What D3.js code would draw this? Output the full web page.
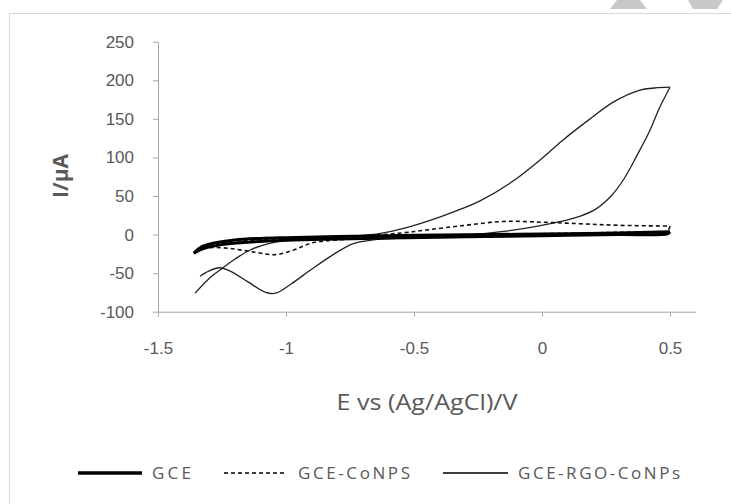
<!DOCTYPE html>
<html>
<head>
<meta charset="utf-8">
<script src="https://cdn.jsdelivr.net/npm/d3@7"></script>
<style>
  body { margin: 0; background: #fff; }
  svg { display: block; font-family: "Open Sans", "Liberation Sans", sans-serif; }
</style>
</head>
<body>
<svg id="chart" width="731" height="504"></svg>
<script>
// data: [E (V), I (uA)], split at the 0.5 V turning point
var gceForward = [
  [-1.36, -24], [-1.33, -16], [-1.28, -11], [-1.2, -7], [-1.1, -5], [-1.0, -4],
  [-0.8, -2.5], [-0.5, -1], [-0.2, 0], [0.1, 1], [0.3, 2], [0.5, 3.5]
];
var gceReverse = [
  [0.5, 3.5], [0.49, 1], [0.3, 0], [0.0, -1.5], [-0.3, -3], [-0.6, -4.5], [-0.85, -6],
  [-1.0, -7.5], [-1.15, -10], [-1.25, -13], [-1.32, -18], [-1.36, -24]
];
var conpsForward = [
  [-1.35, -21], [-1.3, -13], [-1.22, -9], [-1.1, -7], [-0.9, -5], [-0.7, -2],
  [-0.55, 2], [-0.45, 6], [-0.3, 12], [-0.15, 17], [0.0, 16], [0.15, 14],
  [0.3, 12], [0.5, 11]
];
var conpsReverse = [
  [0.5, 11], [0.49, 5], [0.3, 3], [0.0, 1], [-0.3, -2], [-0.6, -4], [-0.8, -7],
  [-0.9, -11], [-0.97, -20], [-1.04, -26], [-1.12, -23], [-1.22, -18],
  [-1.3, -17], [-1.35, -21]
];
var rgoForward = [
  [-1.355, -76], [-1.3, -57], [-1.25, -44], [-1.2, -32], [-1.14, -20],
  [-1.06, -11], [-0.95, -6], [-0.8, -3], [-0.7, -1], [-0.63, 1.5],
  [-0.54, 8], [-0.44, 18], [-0.34, 30], [-0.24, 44], [-0.11, 70],
  [-0.01, 96], [0.08, 122], [0.18, 148], [0.28, 172], [0.38, 187],
  [0.44, 190], [0.5, 191]
];
var rgoReverse = [
  [0.5, 191], [0.46, 165], [0.42, 134], [0.37, 102], [0.32, 72], [0.27, 50],
  [0.21, 33], [0.15, 24], [0.06, 16], [-0.05, 9], [-0.15, 4], [-0.3, -1],
  [-0.5, -4], [-0.66, -7], [-0.74, -12], [-0.82, -27], [-0.9, -45],
  [-0.98, -64], [-1.04, -76], [-1.08, -75], [-1.15, -61], [-1.22, -47],
  [-1.26, -43], [-1.3, -47], [-1.336, -54]
];
var xTicks = [-1.5, -1, -0.5, 0, 0.5];
var yTicks = [-100, -50, 0, 50, 100, 150, 200, 250];
var seriesNames = ["GCE", "GCE-CoNPS", "GCE-RGO-CoNPs"];

var svg = d3.select("#chart");

// watermark bits top right
svg.append("polygon").attr("points", "617,0 640,0 647,9 610,9").attr("fill", "#c8c8c8");
svg.append("polygon").attr("points", "688,0 723,0 717,9 693,9").attr("fill", "#c8c8c8");

// chart area border
svg.append("rect")
  .attr("x", 9.5).attr("y", 13.5)
  .attr("width", 740).attr("height", 500)
  .attr("fill", "none").attr("stroke", "#d9d9d9");

var x = d3.scaleLinear().domain([-1.5, 0.6]).range([158, 695.6]);
var y = d3.scaleLinear().domain([-100, 250]).range([311.7, 41.7]);

var yAxis = svg.append("g")
  .attr("transform", "translate(158,0)")
  .call(d3.axisLeft(y).tickValues(yTicks).tickSize(5).tickSizeOuter(0).tickPadding(19)
    .tickFormat(function(d) { return String(d); }));

var xAxis = svg.append("g")
  .attr("transform", "translate(0,311.7)")
  .call(d3.axisBottom(x).tickValues(xTicks).tickSize(5).tickSizeOuter(0).tickPadding(25)
    .tickFormat(function(d) { return String(d); }));

[xAxis, yAxis].forEach(function(a) {
  a.select(".domain").attr("stroke", "#a6a6a6");
  a.selectAll(".tick line").attr("stroke", "#a6a6a6");
  a.selectAll(".tick text").attr("fill", "#595959").style("font-size", "17px");
});

// axis titles
svg.append("text")
  .attr("transform", "translate(68,176) rotate(-90)")
  .attr("text-anchor", "middle")
  .attr("fill", "#595959")
  .style("font-size", "21px").style("font-weight", "bold")
  .text("I/μA");

svg.append("text")
  .attr("x", 427).attr("y", 410)
  .attr("text-anchor", "middle")
  .attr("fill", "#595959")
  .style("font-size", "21px")
  .attr("textLength", 181).attr("lengthAdjust", "spacingAndGlyphs")
  .text("E vs (Ag/AgCl)/V");

var line = d3.line()
  .x(function(d) { return x(d[0]); })
  .y(function(d) { return y(d[1]); })
  .curve(d3.curveCatmullRom.alpha(0.5));

function drawSeries(parts, color, width, dash) {
  parts.forEach(function(p) {
    svg.append("path").datum(p)
      .attr("d", line).attr("fill", "none")
      .attr("stroke", color).attr("stroke-width", width)
      .attr("stroke-dasharray", dash)
      .attr("stroke-linejoin", "round");
  });
}
drawSeries([rgoForward, rgoReverse], "#222", 1.3, null);
drawSeries([conpsForward, conpsReverse], "#111", 1.6, "4,3");
drawSeries([gceForward, gceReverse], "#000", 3, null);

// legend
var legend = [
  { name: seriesNames[0], x1: 78, x2: 142, tx: 152, tw: 39, w: 3.5, dash: null },
  { name: seriesNames[1], x1: 224, x2: 285, tx: 298, tw: 112, w: 1.6, dash: "4,3" },
  { name: seriesNames[2], x1: 443, x2: 508, tx: 518, tw: 162, w: 1.3, dash: null }
];
var lg = svg.selectAll(".lg").data(legend).enter().append("g").attr("class", "lg");
lg.append("line")
  .attr("x1", function(d) { return d.x1; }).attr("x2", function(d) { return d.x2; })
  .attr("y1", 473).attr("y2", 473)
  .attr("stroke", "#000")
  .attr("stroke-width", function(d) { return d.w; })
  .attr("stroke-dasharray", function(d) { return d.dash; });
lg.append("text")
  .attr("x", function(d) { return d.tx; }).attr("y", 479)
  .attr("textLength", function(d) { return d.tw; }).attr("lengthAdjust", "spacing")
  .attr("fill", "#595959")
  .style("font-size", "17px")
  .text(function(d) { return d.name; });
</script>
</body>
</html>
